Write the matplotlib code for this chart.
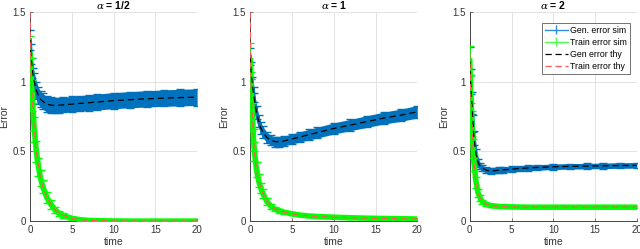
import numpy as np
import matplotlib
matplotlib.use('Agg')
import matplotlib.pyplot as plt

plt.rcParams['font.family'] = ['Liberation Sans', 'DejaVu Sans']
plt.rcParams['mathtext.fontset'] = 'dejavuserif'

# time points (shared by all panels)
t = [0, 0.1, 0.25, 0.4, 0.5, 0.75, 1, 1.25, 1.5, 2, 2.5, 3, 3.5, 4, 5, 6, 7, 8, 10, 12, 14, 16, 18, 20]

titles = [r'$\alpha$ = 1/2', r'$\alpha$ = 1', r'$\alpha$ = 2']

# alpha = 1/2
gen_sim_1 = [1.30, 1.20, 1.10, 1.03, 1.00, 0.94, 0.90, 0.875, 0.86, 0.84, 0.833, 0.83, 0.832, 0.835, 0.84, 0.845, 0.85, 0.855, 0.865, 0.872, 0.878, 0.883, 0.887, 0.89]
gen_err_1 = [0.07, 0.07, 0.07, 0.068, 0.066, 0.062, 0.06, 0.058, 0.057, 0.055, 0.055, 0.055, 0.055, 0.055, 0.056, 0.056, 0.057, 0.057, 0.058, 0.058, 0.059, 0.059, 0.06, 0.06]
train_sim_1 = [1.20, 1.05, 0.90, 0.75, 0.66, 0.50, 0.39, 0.31, 0.25, 0.17, 0.12, 0.08, 0.055, 0.04, 0.02, 0.01, 0.005, 0.003, 0.001, 0.0, 0.0, 0.0, 0.0, 0.0]
train_err_1 = [0.13, 0.12, 0.11, 0.10, 0.09, 0.075, 0.065, 0.055, 0.048, 0.038, 0.03, 0.024, 0.019, 0.015, 0.011, 0.008, 0.006, 0.005, 0.004, 0.004, 0.004, 0.004, 0.004, 0.004]
gen_thy_1 = [1.30, 1.20, 1.10, 1.03, 1.00, 0.94, 0.90, 0.875, 0.86, 0.84, 0.833, 0.83, 0.832, 0.835, 0.84, 0.845, 0.85, 0.855, 0.865, 0.872, 0.878, 0.883, 0.887, 0.89]
train_thy_1 = [1.50, 1.05, 0.90, 0.75, 0.66, 0.50, 0.39, 0.31, 0.25, 0.17, 0.12, 0.08, 0.055, 0.04, 0.02, 0.01, 0.005, 0.003, 0.001, 0.0, 0.0, 0.0, 0.0, 0.0]

# alpha = 1
gen_sim_2 = [1.18, 1.08, 0.98, 0.91, 0.87, 0.78, 0.72, 0.67, 0.64, 0.60, 0.58, 0.57, 0.57, 0.575, 0.59, 0.605, 0.62, 0.635, 0.665, 0.69, 0.715, 0.74, 0.76, 0.785]
gen_err_2 = [0.06, 0.06, 0.058, 0.055, 0.052, 0.048, 0.045, 0.042, 0.04, 0.037, 0.035, 0.035, 0.035, 0.035, 0.036, 0.037, 0.038, 0.039, 0.04, 0.041, 0.042, 0.043, 0.044, 0.045]
train_sim_2 = [1.15, 0.95, 0.75, 0.58, 0.50, 0.37, 0.29, 0.24, 0.20, 0.14, 0.105, 0.085, 0.074, 0.065, 0.052, 0.043, 0.037, 0.033, 0.028, 0.024, 0.021, 0.019, 0.017, 0.015]
train_err_2 = [0.13, 0.12, 0.10, 0.08, 0.07, 0.055, 0.045, 0.037, 0.031, 0.023, 0.018, 0.015, 0.013, 0.011, 0.01, 0.009, 0.008, 0.007, 0.007, 0.006, 0.006, 0.006, 0.006, 0.006]
gen_thy_2 = [1.18, 1.08, 0.98, 0.91, 0.87, 0.78, 0.72, 0.67, 0.64, 0.60, 0.58, 0.57, 0.57, 0.575, 0.59, 0.605, 0.62, 0.635, 0.665, 0.69, 0.715, 0.74, 0.76, 0.785]
train_thy_2 = [1.50, 0.95, 0.75, 0.58, 0.50, 0.37, 0.29, 0.24, 0.20, 0.14, 0.105, 0.085, 0.074, 0.065, 0.052, 0.043, 0.037, 0.033, 0.028, 0.024, 0.021, 0.019, 0.017, 0.015]

# alpha = 2
gen_sim_3 = [1.15, 1.00, 0.85, 0.70, 0.60, 0.48, 0.42, 0.395, 0.38, 0.365, 0.36, 0.362, 0.365, 0.368, 0.373, 0.378, 0.382, 0.385, 0.39, 0.393, 0.395, 0.397, 0.399, 0.40]
gen_err_3 = [0.10, 0.09, 0.08, 0.06, 0.05, 0.035, 0.028, 0.024, 0.022, 0.02, 0.02, 0.02, 0.02, 0.02, 0.02, 0.02, 0.02, 0.02, 0.02, 0.02, 0.02, 0.02, 0.02, 0.02]
train_sim_3 = [1.15, 0.95, 0.70, 0.52, 0.42, 0.28, 0.20, 0.165, 0.14, 0.12, 0.112, 0.108, 0.105, 0.104, 0.102, 0.101, 0.10, 0.10, 0.10, 0.10, 0.10, 0.10, 0.10, 0.10]
train_err_3 = [0.11, 0.10, 0.09, 0.07, 0.06, 0.04, 0.03, 0.02, 0.015, 0.01, 0.008, 0.007, 0.006, 0.006, 0.005, 0.005, 0.005, 0.005, 0.005, 0.005, 0.005, 0.005, 0.005, 0.005]
gen_thy_3 = [1.15, 1.00, 0.85, 0.70, 0.60, 0.48, 0.42, 0.395, 0.38, 0.365, 0.36, 0.362, 0.365, 0.368, 0.373, 0.378, 0.382, 0.385, 0.39, 0.393, 0.395, 0.397, 0.399, 0.40]
train_thy_3 = [1.20, 0.95, 0.70, 0.52, 0.42, 0.28, 0.20, 0.165, 0.14, 0.12, 0.112, 0.108, 0.105, 0.104, 0.102, 0.101, 0.10, 0.10, 0.10, 0.10, 0.10, 0.10, 0.10, 0.10]

panels = [
    (gen_sim_1, gen_err_1, train_sim_1, train_err_1, gen_thy_1, train_thy_1),
    (gen_sim_2, gen_err_2, train_sim_2, train_err_2, gen_thy_2, train_thy_2),
    (gen_sim_3, gen_err_3, train_sim_3, train_err_3, gen_thy_3, train_thy_3),
]

blue = (0, 0.447, 0.741)
green = (0, 1, 0)
red = (1, 0.35, 0.35)
lefts = [0.047, 0.391, 0.734]

fig = plt.figure(figsize=(6.4, 2.49), dpi=100)

for i, (gs, ge, ts, te, gt, tt) in enumerate(panels):
    ax = fig.add_axes([lefts[i], 0.112, 0.261, 0.839])
    tx = np.array(t)
    gs, ge, ts, te = map(np.array, (gs, ge, ts, te))

    # bands made of dense error bars
    ax.fill_between(tx, gs - ge, gs + ge, color=blue, lw=0, zorder=2)
    ax.errorbar(tx, gs, yerr=ge, color=blue, lw=2.5, elinewidth=1.2,
                capsize=3, capthick=1, zorder=2)
    ax.fill_between(tx, ts - te, ts + te, color=green, lw=0, zorder=3)
    ax.errorbar(tx, ts, yerr=te, color=green, lw=4, elinewidth=1.2,
                capsize=3, capthick=1, zorder=3)

    ax.plot(tx, gt, color='k', lw=0.9, dashes=(5, 3), zorder=4)
    ax.plot(tx, tt, color=red, lw=0.9, dashes=(5, 3), zorder=5)

    ax.set_xlim(0, 20)
    ax.set_ylim(0, 1.5)
    ax.set_xticks([0, 5, 10, 15, 20])
    ax.set_yticks([0, 0.5, 1, 1.5])
    ax.set_yticklabels(['0', '0.5', '1', '1.5'])
    ax.grid(True, color='#e3e3e3', lw=0.7)
    ax.set_axisbelow(True)
    for s in ['top', 'right']:
        ax.spines[s].set_visible(False)
    for s in ['left', 'bottom']:
        ax.spines[s].set_color('#444444')
        ax.spines[s].set_linewidth(0.7)
    ax.tick_params(direction='in', length=2, width=0.5, labelsize=7,
                   colors='#444444', labelcolor='#333333', pad=3)
    ax.set_xlabel('time', fontsize=7.5, color='#333333', labelpad=1)
    ax.set_ylabel('Error', fontsize=7.5, color='#333333', labelpad=2.5)
    ax.set_title(titles[i], fontsize=7.5, fontweight='bold', pad=2)

    if i == 2:
        # legend handles in MATLAB look: thin errorbar symbols and dashed lines
        l1 = ax.errorbar([], [], yerr=[], color=(0.2, 0.55, 0.85), lw=1, capsize=2.5)
        l2 = ax.errorbar([], [], yerr=[], color=(0.3, 1, 0.3), lw=1, capsize=2.5)
        l3, = ax.plot([], [], color='k', lw=0.9, dashes=(5, 3))
        l4, = ax.plot([], [], color=red, lw=0.9, dashes=(5, 3))
        leg = ax.legend([l1, l2, l3, l4],
                        ['Gen. error sim', 'Train error sim', 'Gen error thy', 'Train error thy'],
                        loc='upper right', fontsize=6.3, frameon=True, fancybox=False,
                        handlelength=2.6, handletextpad=0.3, borderpad=0.35,
                        labelspacing=0.35, borderaxespad=0, bbox_to_anchor=(0.96, 0.95))
        leg.get_frame().set_edgecolor('#333333')
        leg.get_frame().set_linewidth(0.6)

fig.savefig('out.png', dpi=100)
